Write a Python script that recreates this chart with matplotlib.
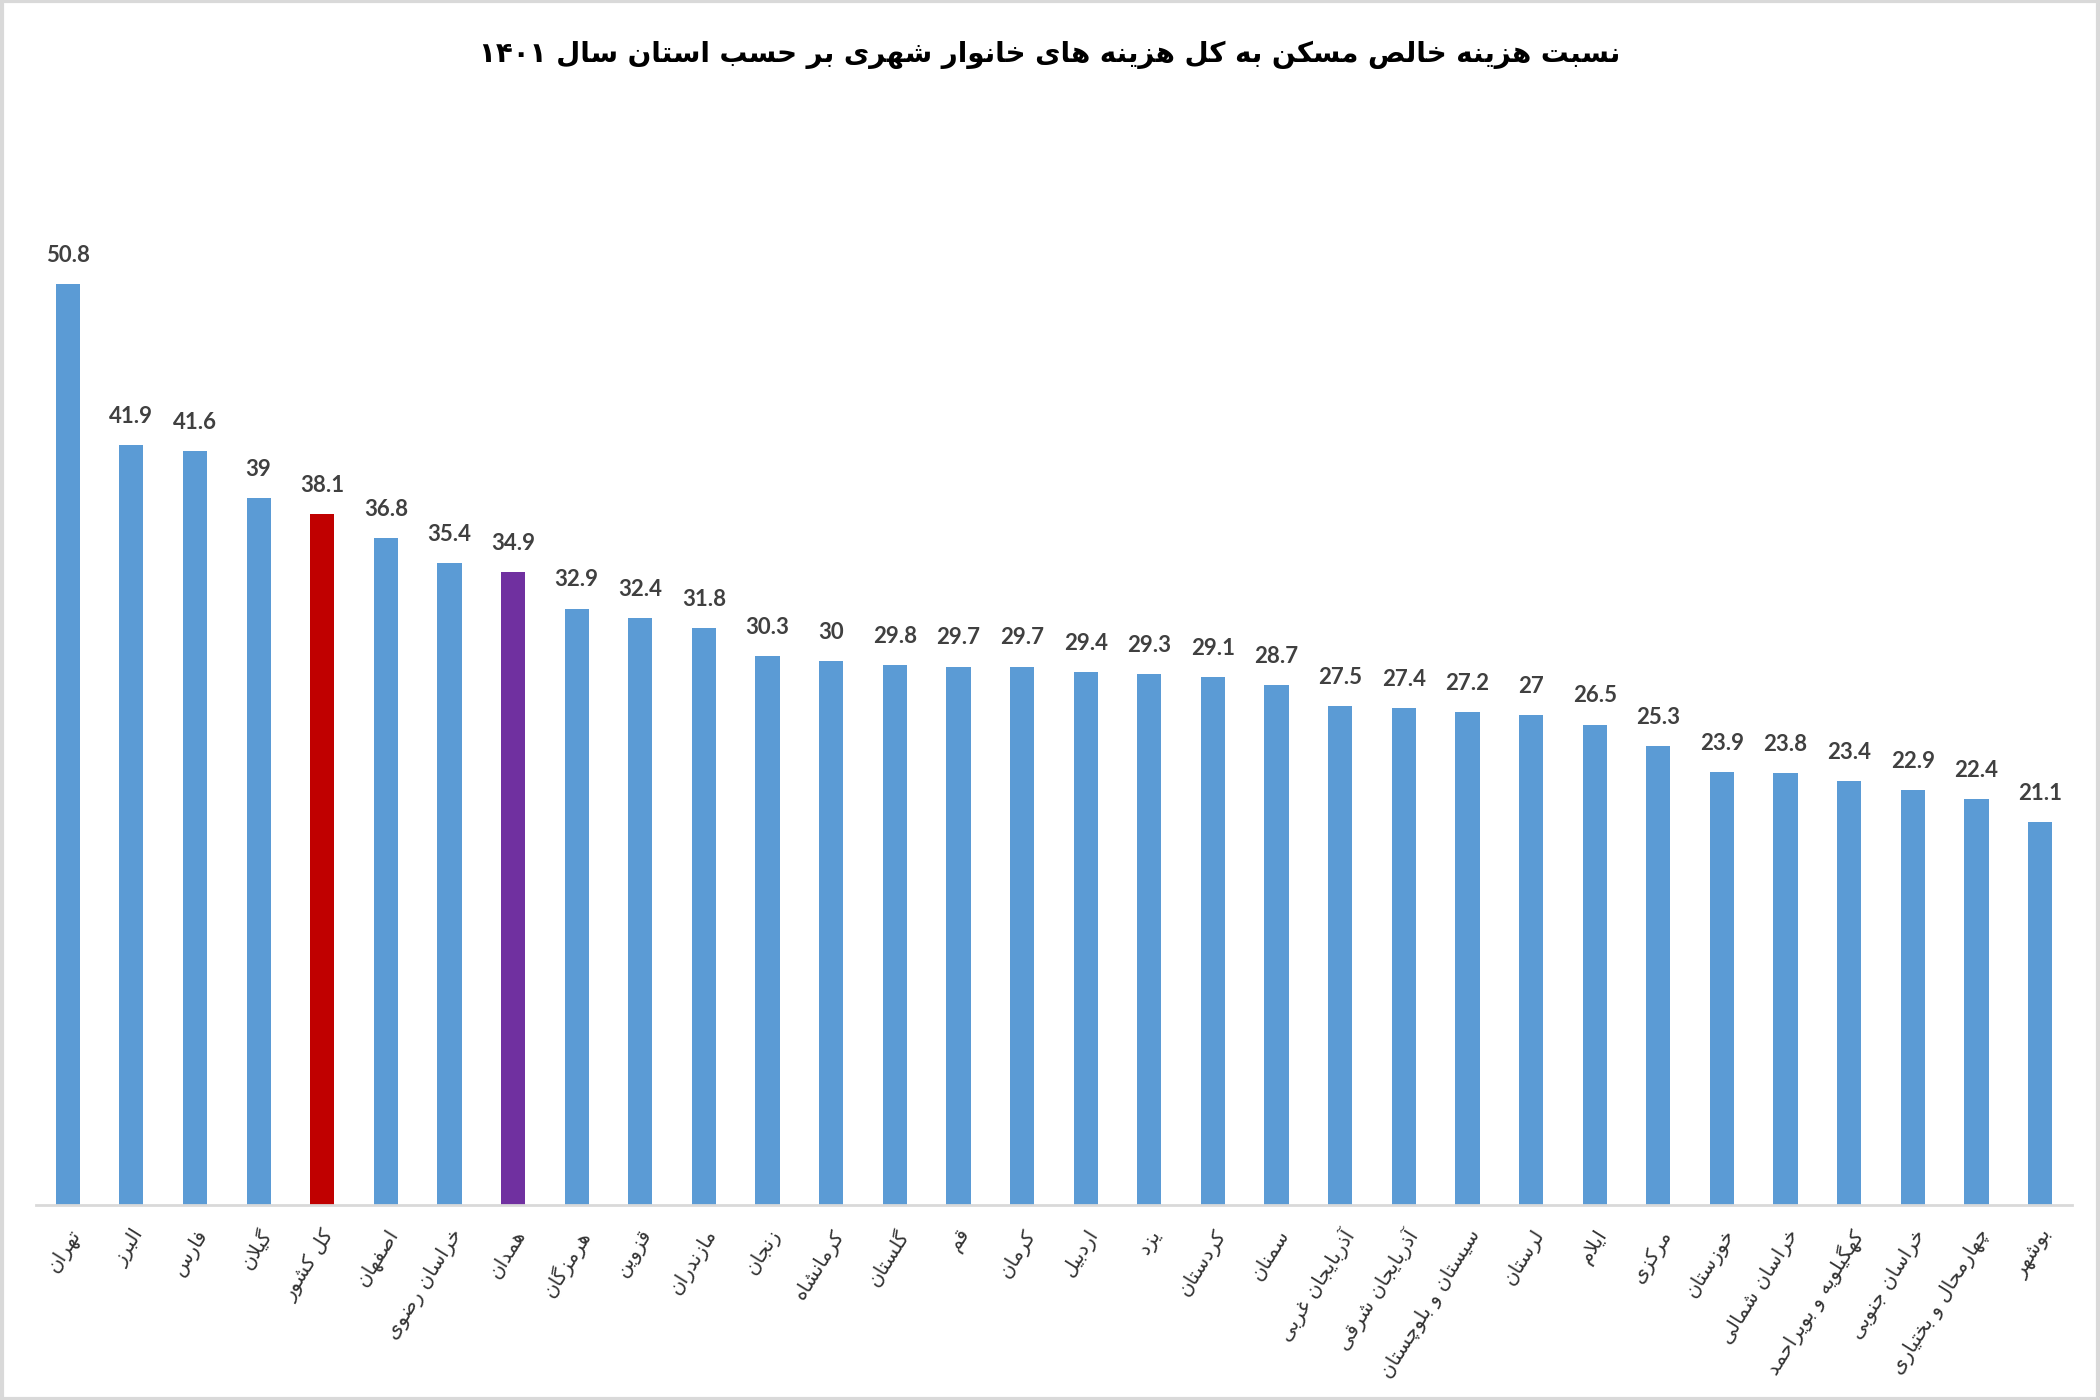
import re
import numpy as np
import matplotlib
matplotlib.use('Agg')
import matplotlib.pyplot as plt
from matplotlib.patches import Rectangle

title = 'نسبت هزینه خالص مسکن به کل هزینه های خانوار شهری بر حسب استان سال ۱۴۰۱'

provinces = ['تهران', 'البرز', 'فارس', 'گیلان', 'کل کشور', 'اصفهان', 'خراسان رضوی',
             'همدان', 'هرمزگان', 'قزوین', 'مازندران', 'زنجان', 'کرمانشاه', 'گلستان',
             'قم', 'کرمان', 'اردبیل', 'یزد', 'کردستان', 'سمنان', 'آذربایجان غربی',
             'آذربایجان شرقی', 'سیستان و بلوچستان', 'لرستان', 'ایلام', 'مرکزی',
             'خوزستان', 'خراسان شمالی', 'کهگیلویه و بویراحمد', 'خراسان جنوبی',
             'چهارمحال و بختیاری', 'بوشهر']
values = [50.8, 41.9, 41.6, 39, 38.1, 36.8, 35.4, 34.9, 32.9, 32.4, 31.8, 30.3, 30,
          29.8, 29.7, 29.7, 29.4, 29.3, 29.1, 28.7, 27.5, 27.4, 27.2, 27, 26.5, 25.3,
          23.9, 23.8, 23.4, 22.9, 22.4, 21.1]
highlight = {'کل کشور': '#C00000', 'همدان': '#7030A0'}

# arabic presentation forms: isolated, final, initial, medial
forms = {
    'ا': (0xFE8D, 0xFE8E, None, None), 'آ': (0xFE81, 0xFE82, None, None),
    'ب': (0xFE8F, 0xFE90, 0xFE91, 0xFE92), 'پ': (0xFB56, 0xFB57, 0xFB58, 0xFB59),
    'ت': (0xFE95, 0xFE96, 0xFE97, 0xFE98), 'ث': (0xFE99, 0xFE9A, 0xFE9B, 0xFE9C),
    'ج': (0xFE9D, 0xFE9E, 0xFE9F, 0xFEA0), 'چ': (0xFB7A, 0xFB7B, 0xFB7C, 0xFB7D),
    'ح': (0xFEA1, 0xFEA2, 0xFEA3, 0xFEA4), 'خ': (0xFEA5, 0xFEA6, 0xFEA7, 0xFEA8),
    'د': (0xFEA9, 0xFEAA, None, None), 'ذ': (0xFEAB, 0xFEAC, None, None),
    'ر': (0xFEAD, 0xFEAE, None, None), 'ز': (0xFEAF, 0xFEB0, None, None),
    'ژ': (0xFB8A, 0xFB8B, None, None), 'س': (0xFEB1, 0xFEB2, 0xFEB3, 0xFEB4),
    'ش': (0xFEB5, 0xFEB6, 0xFEB7, 0xFEB8), 'ص': (0xFEB9, 0xFEBA, 0xFEBB, 0xFEBC),
    'ض': (0xFEBD, 0xFEBE, 0xFEBF, 0xFEC0), 'ط': (0xFEC1, 0xFEC2, 0xFEC3, 0xFEC4),
    'ظ': (0xFEC5, 0xFEC6, 0xFEC7, 0xFEC8), 'ع': (0xFEC9, 0xFECA, 0xFECB, 0xFECC),
    'غ': (0xFECD, 0xFECE, 0xFECF, 0xFED0), 'ف': (0xFED1, 0xFED2, 0xFED3, 0xFED4),
    'ق': (0xFED5, 0xFED6, 0xFED7, 0xFED8), 'ک': (0xFB8E, 0xFB8F, 0xFB90, 0xFB91),
    'گ': (0xFB92, 0xFB93, 0xFB94, 0xFB95), 'ل': (0xFEDD, 0xFEDE, 0xFEDF, 0xFEE0),
    'م': (0xFEE1, 0xFEE2, 0xFEE3, 0xFEE4), 'ن': (0xFEE5, 0xFEE6, 0xFEE7, 0xFEE8),
    'و': (0xFEED, 0xFEEE, None, None), 'ه': (0xFEE9, 0xFEEA, 0xFEEB, 0xFEEC),
    'ی': (0xFBFC, 0xFBFD, 0xFBFE, 0xFBFF),
}
lam_alef = {'ا': (0xFEFB, 0xFEFC), 'آ': (0xFEF5, 0xFEF6)}


def joins_next(c):
    return c in forms and forms[c][2] is not None


def fa(text):
    out = []
    i = 0
    while i < len(text):
        c = text[i]
        prev = text[i - 1] if i > 0 else ''
        nxt = text[i + 1] if i + 1 < len(text) else ''
        if c not in forms:
            if c != '\u200c':
                out.append(c)
            i += 1
            continue
        jp = joins_next(prev)
        if c == 'ل' and nxt in lam_alef:
            out.append(chr(lam_alef[nxt][1 if jp else 0]))
            i += 2
            continue
        jn = joins_next(c) and nxt in forms
        f = forms[c]
        if jp and jn:
            code = f[3]
        elif jp:
            code = f[1]
        elif jn:
            code = f[2]
        else:
            code = f[0]
        out.append(chr(code))
        i += 1
    vis = ''.join(out)[::-1]
    return re.sub(r'[0-9\u06F0-\u06F9.]+', lambda m: m.group(0)[::-1], vis)


plt.rcParams['font.family'] = ['DejaVu Sans']

fig = plt.figure(figsize=(21, 14), dpi=100)
ax = fig.add_axes([0.0171, 0.1393, 0.9695, 0.777])

x = np.arange(len(values))
colors = [highlight.get(p, '#5B9BD5') for p in provinces]
ax.bar(x, values, width=0.38, color=colors)

for xi, v in zip(x, values):
    ax.annotate(f'{v:g}', (xi, v), xytext=(0, 13), textcoords='offset points',
                ha='center', va='bottom', fontsize=16, fontweight='bold',
                color='#404040', family=['Lato', 'DejaVu Sans'])

ax.set_xlim(-0.5, len(values) - 0.5)
ax.set_ylim(0, 60)
ax.set_xticks(x)
ax.set_xticklabels([fa(p) for p in provinces], rotation=58, ha='right',
                   rotation_mode='anchor', fontsize=14.5, color='#333333')
ax.tick_params(axis='x', length=0, pad=15)
ax.set_yticks([])
for s in ['top', 'right', 'left']:
    ax.spines[s].set_visible(False)
ax.spines['bottom'].set_color('#D9D9D9')
ax.spines['bottom'].set_linewidth(2)

fig.text(0.5, 0.961, fa(title), ha='center', va='center', fontsize=20,
         fontweight='bold', color='black')

fig.patches.append(Rectangle((0.001, 0.001), 0.998, 0.998, transform=fig.transFigure,
                             fill=False, edgecolor='#D9D9D9', linewidth=3))

fig.savefig('out.png', dpi=100)
